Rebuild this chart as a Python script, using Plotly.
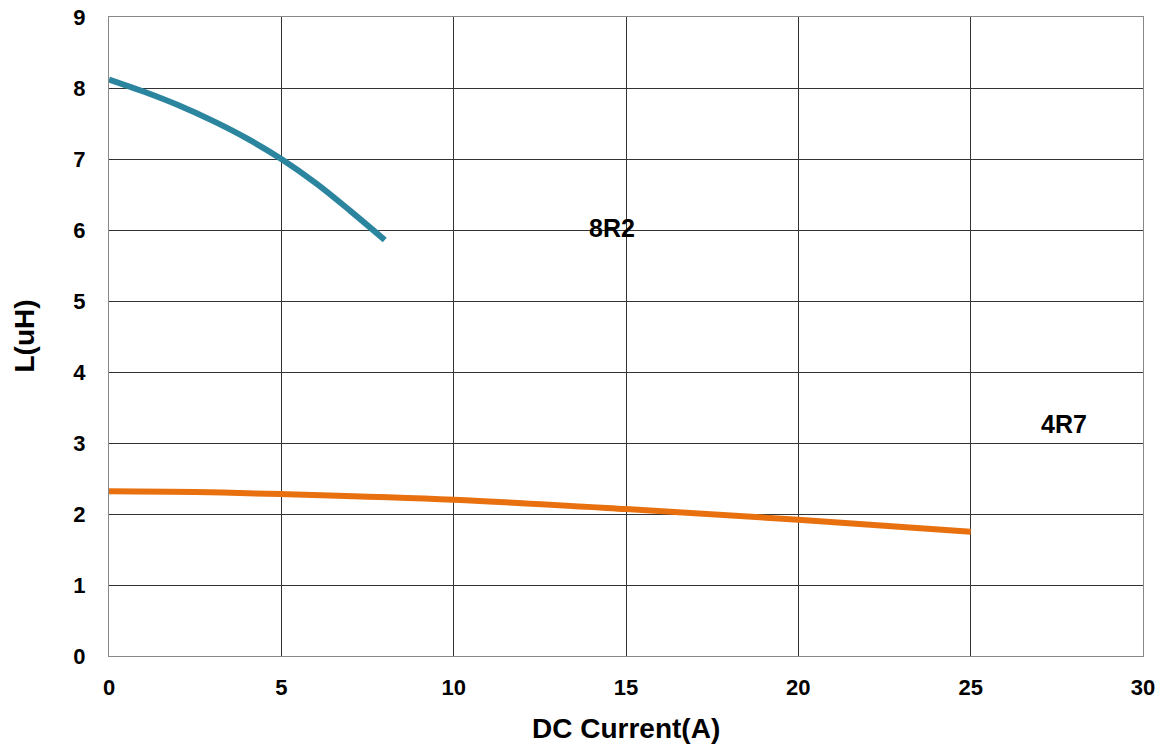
import plotly.graph_objects as go

x_8r2 = [0, 1, 2, 3, 4, 5, 6, 7, 8]
y_8r2 = [8.12, 7.95, 7.76, 7.54, 7.29, 7.0, 6.66, 6.27, 5.86]

x_4r7 = [0, 2.5, 5, 10, 15, 20, 25]
y_4r7 = [2.32, 2.31, 2.28, 2.20, 2.07, 1.92, 1.75]

labels = ["8R2", "4R7"]
label_x = [14.6, 27.7]
label_y = [6.03, 3.27]

x_ticks = [0, 5, 10, 15, 20, 25, 30]
y_ticks = [0, 1, 2, 3, 4, 5, 6, 7, 8, 9]

font_family = "Liberation Sans, Arial, sans-serif"

fig = go.Figure()
fig.add_trace(go.Scatter(x=x_8r2, y=y_8r2, mode="lines", line=dict(color="#2B859F", width=6, shape="spline"), showlegend=False))
fig.add_trace(go.Scatter(x=x_4r7, y=y_4r7, mode="lines", line=dict(color="#E8700E", width=6, shape="spline"), showlegend=False))

for t, lx, ly in zip(labels, label_x, label_y):
    fig.add_annotation(x=lx, y=ly, text="<b>%s</b>" % t, showarrow=False,
                       font=dict(family=font_family, size=25, color="black"))

# axis titles
fig.add_annotation(x=0.5, y=0, xref="paper", yref="paper", yshift=-72, showarrow=False,
                   text="<b>DC Current(A)</b>", font=dict(family=font_family, size=28, color="black"),
                   xanchor="center", yanchor="middle")
fig.add_annotation(x=0, y=0.5, xref="paper", yref="paper", xshift=-85, showarrow=False,
                   text="<b>L(uH)</b>", textangle=-90, font=dict(family=font_family, size=28, color="black"),
                   xanchor="center", yanchor="middle")

fig.update_layout(
    width=1163, height=749,
    margin=dict(l=109, r=20, t=17, b=93, autoexpand=False),
    plot_bgcolor="white", paper_bgcolor="white",
    font=dict(family=font_family, color="black"),
)
fig.update_xaxes(range=[0, 30], tickvals=x_ticks, ticktext=["<b>%d</b>" % v for v in x_ticks],
                 showgrid=True, gridcolor="#333333", gridwidth=1,
                 showline=True, linecolor="#888888", linewidth=1, mirror=True,
                 zeroline=False, tickfont=dict(size=22), automargin=False,
                 ticklabelstandoff=12)
fig.update_yaxes(range=[0, 9], tickvals=y_ticks, ticktext=["<b>%d</b>" % v for v in y_ticks],
                 showgrid=True, gridcolor="#333333", gridwidth=1,
                 showline=True, linecolor="#888888", linewidth=1, mirror=True,
                 zeroline=False, tickfont=dict(size=22), automargin=False,
                 ticklabelstandoff=18)

# remove the browser's default 8px body margin so the figure sits at the page origin
fig.write_html("out.html", config={"displayModeBar": False},
               post_script="document.body.style.margin='0';")
